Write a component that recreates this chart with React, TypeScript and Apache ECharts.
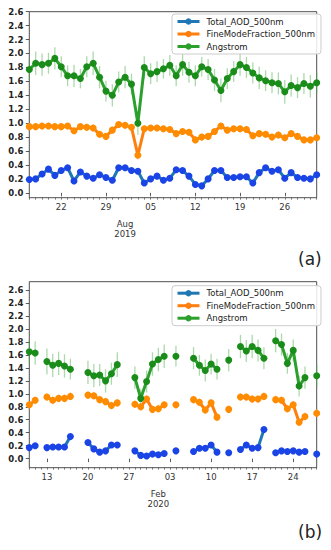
import React, { useEffect, useRef } from 'react';
import * as echarts from 'echarts';

// ---------- Chart (a): July 17 – Aug 31, 2019 (x = day counted from Jul 1) ----------
const topDays = [17, 18, 19, 20, 21, 22, 23, 24, 25, 26, 27, 28, 29, 30, 31, 32, 33, 34, 35, 36, 37, 38, 39, 40, 41, 42, 43, 44, 45, 46, 47, 48, 49, 50, 51, 52, 53, 54, 55, 56, 57, 58, 59, 60, 61, 62];
const topAOD = [0.19, 0.20, 0.27, 0.34, 0.25, 0.32, 0.36, 0.17, 0.30, 0.24, 0.21, 0.26, 0.22, 0.18, 0.36, 0.36, 0.32, 0.31, 0.14, 0.20, 0.24, 0.18, 0.21, 0.33, 0.32, 0.24, 0.12, 0.10, 0.20, 0.32, 0.32, 0.22, 0.22, 0.23, 0.23, 0.14, 0.29, 0.36, 0.31, 0.33, 0.21, 0.29, 0.22, 0.21, 0.20, 0.26];
const topAODErr = [0.03, 0.03, 0.03, 0.04, 0.03, 0.04, 0.04, 0.03, 0.03, 0.03, 0.03, 0.03, 0.03, 0.03, 0.04, 0.04, 0.03, 0.03, 0.03, 0.03, 0.03, 0.03, 0.03, 0.04, 0.04, 0.03, 0.03, 0.03, 0.03, 0.04, 0.03, 0.03, 0.03, 0.03, 0.03, 0.03, 0.03, 0.04, 0.03, 0.03, 0.03, 0.03, 0.03, 0.03, 0.03, 0.03];
const topFMF = [0.95, 0.95, 0.96, 0.96, 0.95, 0.95, 0.96, 0.89, 0.95, 0.94, 0.93, 0.84, 0.81, 0.90, 0.98, 0.97, 0.94, 0.54, 0.92, 0.93, 0.93, 0.92, 0.91, 0.85, 0.88, 0.87, 0.76, 0.80, 0.81, 0.88, 0.96, 0.90, 0.92, 0.92, 0.91, 0.82, 0.85, 0.84, 0.80, 0.83, 0.79, 0.85, 0.81, 0.76, 0.76, 0.79];
const topFMFErr = [0.05, 0.05, 0.05, 0.05, 0.05, 0.05, 0.05, 0.05, 0.05, 0.05, 0.05, 0.05, 0.05, 0.05, 0.05, 0.05, 0.05, 0.06, 0.05, 0.05, 0.05, 0.05, 0.05, 0.05, 0.05, 0.05, 0.05, 0.05, 0.05, 0.05, 0.05, 0.05, 0.05, 0.05, 0.05, 0.05, 0.05, 0.05, 0.05, 0.05, 0.05, 0.05, 0.05, 0.05, 0.05, 0.05];
const topANG = [1.77, 1.86, 1.84, 1.86, 1.93, 1.81, 1.68, 1.68, 1.64, 1.81, 1.86, 1.66, 1.46, 1.40, 1.59, 1.66, 1.56, 1.00, 1.80, 1.71, 1.74, 1.78, 1.83, 1.68, 1.84, 1.73, 1.68, 1.81, 1.77, 1.62, 1.47, 1.64, 1.74, 1.84, 1.80, 1.72, 1.65, 1.61, 1.58, 1.57, 1.45, 1.54, 1.51, 1.57, 1.53, 1.58];
const topANGErr = [0.15, 0.17, 0.16, 0.15, 0.16, 0.15, 0.15, 0.16, 0.14, 0.15, 0.17, 0.16, 0.15, 0.16, 0.15, 0.16, 0.15, 0.17, 0.16, 0.15, 0.15, 0.14, 0.15, 0.15, 0.16, 0.15, 0.15, 0.14, 0.15, 0.16, 0.17, 0.15, 0.15, 0.16, 0.15, 0.15, 0.16, 0.15, 0.15, 0.16, 0.17, 0.16, 0.15, 0.15, 0.16, 0.15];
const topTickValues = [22, 29, 36, 43, 50, 57];
const topTickLabels = ['22', '29', '05', '12', '19', '26'];
const topMonthValue = 32;
const topMonthLabel = 'Aug\n2019';

// ---------- Chart (b): Jan 10 – Feb 28, 2020 (x = day counted from Jan 1) ----------
const botDays = [10, 11, 13, 14, 15, 16, 17, 20, 21, 22, 23, 24, 25, 28, 29, 30, 31, 32, 33, 35, 38, 39, 40, 41, 42, 44, 46, 47, 48, 49, 50, 52, 53, 54, 55, 56, 57, 59];
const botAOD = [0.17, 0.20, 0.17, 0.18, 0.18, 0.18, 0.34, 0.25, 0.15, 0.10, 0.12, 0.21, 0.21, 0.12, 0.05, 0.04, 0.07, 0.06, 0.08, 0.12, 0.11, 0.16, 0.16, 0.21, 0.10, 0.09, 0.14, 0.21, 0.16, 0.17, 0.45, 0.09, 0.12, 0.11, 0.12, 0.10, 0.11, 0.07];
const botAODErr = [0.04, 0.04, 0.04, 0.04, 0.04, 0.04, 0.04, 0.04, 0.04, 0.04, 0.04, 0.04, 0.04, 0.04, 0.04, 0.04, 0.04, 0.04, 0.04, 0.04, 0.04, 0.04, 0.04, 0.04, 0.04, 0.04, 0.04, 0.04, 0.04, 0.04, 0.04, 0.04, 0.04, 0.04, 0.04, 0.04, 0.04, 0.04];
const botFMF = [0.83, 0.90, 0.95, 0.90, 0.93, 0.93, 0.96, 0.98, 0.97, 0.91, 0.88, 0.82, 0.86, 0.84, 0.80, 0.92, 0.76, 0.77, 0.83, 0.83, 0.91, 0.87, 0.75, 0.86, 0.64, 0.76, 0.95, 0.95, 0.92, 0.92, 0.96, 0.91, 0.90, 0.77, 0.83, 0.56, 0.65, 0.70];
const botFMFErr = [0.06, 0.06, 0.06, 0.06, 0.06, 0.06, 0.06, 0.06, 0.06, 0.06, 0.06, 0.06, 0.06, 0.06, 0.06, 0.06, 0.06, 0.06, 0.06, 0.06, 0.06, 0.06, 0.06, 0.06, 0.06, 0.06, 0.06, 0.06, 0.06, 0.06, 0.06, 0.06, 0.06, 0.06, 0.06, 0.06, 0.06, 0.06];
const botANG = [1.65, 1.63, 1.50, 1.44, 1.47, 1.43, 1.38, 1.33, 1.28, 1.29, 1.20, 1.31, 1.45, 1.25, 0.93, 1.19, 1.46, 1.53, 1.58, 1.58, 1.55, 1.44, 1.36, 1.46, 1.38, 1.52, 1.73, 1.66, 1.73, 1.67, 1.55, 1.82, 1.76, 1.47, 1.67, 1.12, 1.25, 1.28];
const botANGErr = [0.18, 0.18, 0.2, 0.18, 0.18, 0.18, 0.16, 0.18, 0.18, 0.17, 0.18, 0.17, 0.19, 0.17, 0.15, 0.17, 0.18, 0.18, 0.18, 0.16, 0.17, 0.16, 0.17, 0.16, 0.16, 0.17, 0.18, 0.17, 0.18, 0.17, 0.17, 0.18, 0.17, 0.16, 0.17, 0.16, 0.17, 0.17];
const botTickValues = [13, 20, 27, 34, 41, 48, 55];
const botTickLabels = ['13', '20', '27', '03', '10', '17', '24'];
const botMonthValue = 32;
const botMonthLabel = 'Feb\n2020';

const yTicks = [0, 0.2, 0.4, 0.6, 0.8, 1.0, 1.2, 1.4, 1.6, 1.8, 2.0, 2.2, 2.4, 2.6];
const seriesNames = ['Total_AOD_500nm', 'FineModeFraction_500nm', 'Angstrom'];

const FONT = 'DejaVu Sans';
const lineColors = ['#1f77b4', '#ff7f0e', '#2ca02c'];
const markerColors = ['#1a44e6', '#ff8c00', '#1a8c1a'];
const errColors = ['rgba(90,120,240,0.45)', 'rgba(255,165,70,0.55)', 'rgba(70,170,70,0.45)'];

function lineData(days: number[], vals: number[]) {
  const out: any[] = [];
  for (let i = 0; i < days.length; i++) {
    out.push([days[i], vals[i]]);
    if (i < days.length - 1 && days[i + 1] - days[i] > 1) out.push([days[i] + 1, '-']);
  }
  return out;
}

function errSeries(days: number[], vals: number[], errs: number[], idx: number, color: string) {
  return {
    type: 'custom',
    xAxisIndex: idx * 3,
    yAxisIndex: idx,
    silent: true,
    z: 1,
    data: days.map((d, i) => [d, vals[i] - errs[i], vals[i] + errs[i]]),
    encode: { x: 0, y: [1, 2] },
    renderItem: (params: any, api: any) => {
      const p1 = api.coord([api.value(0), api.value(1)]);
      const p2 = api.coord([api.value(0), api.value(2)]);
      return {
        type: 'line',
        shape: { x1: p1[0], y1: p1[1], x2: p2[0], y2: p2[1] },
        style: { stroke: color, lineWidth: 1.3 },
      };
    },
  };
}

function lineSeries(name: string, days: number[], vals: number[], idx: number, k: number) {
  return {
    name,
    type: 'line',
    xAxisIndex: idx * 3,
    yAxisIndex: idx,
    data: lineData(days, vals),
    connectNulls: false,
    symbol: 'circle',
    symbolSize: 7,
    showSymbol: true,
    z: 2 + k,
    lineStyle: { color: lineColors[k], width: 3 },
    itemStyle: { color: markerColors[k] },
  };
}

function xAxes(idx: number, days: number[], ticks: number[], labels: string[], monthVal: number, monthLabel: string) {
  const min = days[0];
  const max = days[days.length - 1];
  const allDays: number[] = [];
  for (let d = min; d <= max; d++) allDays.push(d);
  return [
    {
      type: 'value', gridIndex: idx, min, max, position: 'bottom',
      axisLine: { show: false },
      splitLine: { show: false },
      axisTick: { show: true, customValues: ticks, length: 3.5, lineStyle: { color: '#333', width: 0.8 } },
      axisLabel: {
        show: true, customValues: ticks, margin: 5, fontSize: 8.5, fontFamily: FONT, color: '#333',
        formatter: (v: number) => { const i = ticks.indexOf(Math.round(v)); return i >= 0 ? labels[i] : ''; },
      },
    },
    {
      type: 'value', gridIndex: idx, min, max, position: 'bottom',
      axisLine: { show: false },
      splitLine: { show: false },
      axisTick: { show: true, customValues: allDays, length: 2, lineStyle: { color: '#333', width: 0.6 } },
      axisLabel: { show: false },
    },
    {
      type: 'value', gridIndex: idx, min, max, position: 'bottom',
      axisLine: { show: false },
      splitLine: { show: false },
      axisTick: { show: false },
      axisLabel: {
        show: true, customValues: [monthVal], margin: 22, fontSize: 8.5, lineHeight: 9.5, fontFamily: FONT, color: '#333',
        formatter: () => monthLabel,
      },
    },
  ];
}

function yAxis(idx: number, min: number, max: number) {
  return {
    type: 'value', gridIndex: idx, min, max, position: 'left',
    axisLine: { show: false },
    splitLine: { show: false },
    axisTick: { show: true, customValues: yTicks, length: 3.5, lineStyle: { color: '#333', width: 0.8 } },
    axisLabel: {
      show: true, customValues: yTicks, margin: 6, fontSize: 8.5, fontWeight: 'bold', fontFamily: FONT, color: '#222',
      formatter: (v: number) => v.toFixed(1),
    },
  };
}

function legend(top: number) {
  return {
    orient: 'vertical', left: 172, top,
    data: seriesNames.map((n, k) => ({
      name: n,
      itemStyle: { color: lineColors[k] },
      lineStyle: { color: lineColors[k], width: 3 },
    })),
    itemWidth: 22, itemHeight: 8, itemGap: 3.5,
    padding: [3, 6, 3, 4],
    borderColor: '#cccccc', borderWidth: 1, borderRadius: 3,
    backgroundColor: 'rgba(255,255,255,0.85)',
    selectedMode: false,
    textStyle: { fontSize: 8.5, fontFamily: FONT, color: '#222', padding: [0, 0, 0, 2] },
  };
}

export default function App() {
  const ref = useRef<HTMLDivElement>(null);
  useEffect(() => {
    if (!ref.current) return;
    const chart = echarts.init(ref.current, undefined, { renderer: 'svg' });
    const option: any = {
      animation: false,
      backgroundColor: '#ffffff',
      grid: [
        { left: 29.3, top: 11.7, width: 287.4, height: 186, show: true, borderColor: '#222', borderWidth: 0.8, backgroundColor: 'transparent' },
        { left: 29.3, top: 281.7, width: 287.4, height: 186, show: true, borderColor: '#222', borderWidth: 0.8, backgroundColor: 'transparent' },
      ],
      xAxis: [
        ...xAxes(0, topDays, topTickValues, topTickLabels, topMonthValue, topMonthLabel),
        ...xAxes(1, botDays, botTickValues, botTickLabels, botMonthValue, botMonthLabel),
      ],
      yAxis: [yAxis(0, -0.07, 2.6), yAxis(1, -0.14, 2.73)],
      legend: [legend(14), legend(285.7)],
      graphic: [
        { type: 'text', left: 298, top: 250, style: { text: '(a)', fontSize: 17, fontFamily: FONT, fill: '#222' } },
        { type: 'text', left: 298, top: 523, style: { text: '(b)', fontSize: 17, fontFamily: FONT, fill: '#222' } },
      ],
      series: [
        errSeries(topDays, topAOD, topAODErr, 0, errColors[0]),
        lineSeries(seriesNames[0], topDays, topAOD, 0, 0),
        errSeries(topDays, topFMF, topFMFErr, 0, errColors[1]),
        lineSeries(seriesNames[1], topDays, topFMF, 0, 1),
        errSeries(topDays, topANG, topANGErr, 0, errColors[2]),
        lineSeries(seriesNames[2], topDays, topANG, 0, 2),
        errSeries(botDays, botAOD, botAODErr, 1, errColors[0]),
        lineSeries(seriesNames[0], botDays, botAOD, 1, 0),
        errSeries(botDays, botFMF, botFMFErr, 1, errColors[1]),
        lineSeries(seriesNames[1], botDays, botFMF, 1, 1),
        errSeries(botDays, botANG, botANGErr, 1, errColors[2]),
        lineSeries(seriesNames[2], botDays, botANG, 1, 2),
      ],
    };
    chart.setOption(option);
    return () => chart.dispose();
  }, []);
  return <div ref={ref} style={{ position: 'absolute', left: 0, top: 0, width: 331, height: 550 }} />;
}
